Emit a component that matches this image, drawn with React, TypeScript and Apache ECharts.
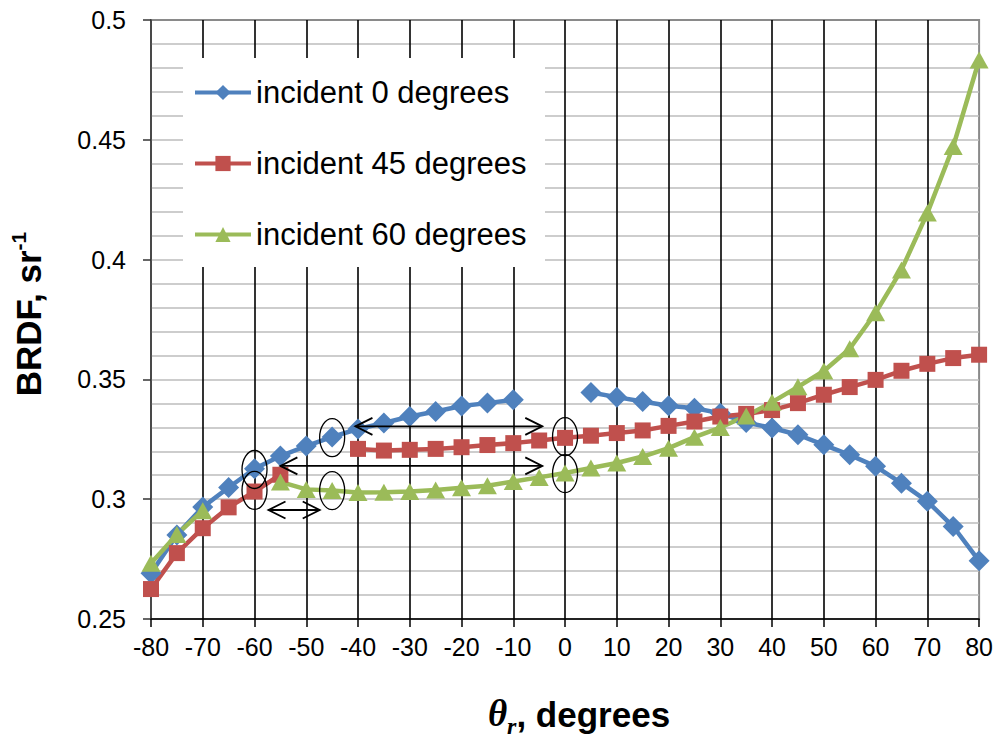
import React, { useEffect, useRef } from "react";
import * as echarts from "echarts";

// Reflection angle theta_r, degrees
const ANGLES = [-80, -75, -70, -65, -60, -55, -50, -45, -40, -35, -30, -25, -20, -15, -10, -5, 0, 5, 10, 15, 20, 25, 30, 35, 40, 45, 50, 55, 60, 65, 70, 75, 80];

const SERIES_NAMES = ["incident 0 degrees", "incident 45 degrees", "incident 60 degrees"];
const SERIES_COLORS = ["#4F81BD", "#C0504D", "#9BBB59"];
const SERIES_SYMBOLS = ["diamond", "rect", "triangle"];

const INC0 = [0.2691, 0.2851, 0.2967, 0.3049, 0.3127, 0.3180, 0.3222, 0.3260, 0.3293, 0.3318, 0.3345, 0.3366, 0.3389, 0.3401, 0.3415, null, null, 0.3445, 0.3426, 0.3408, 0.3390, 0.3380, 0.3359, 0.3320, 0.3297, 0.3269, 0.3227, 0.3185, 0.3137, 0.3067, 0.2991, 0.2886, 0.2743];
const INC45 = [0.2625, 0.2775, 0.2879, 0.2966, 0.3032, 0.3102, null, null, 0.3210, 0.3203, 0.3206, 0.3210, 0.3217, 0.3226, 0.3234, 0.3245, 0.3256, 0.3265, 0.3276, 0.3287, 0.3306, 0.3324, 0.3345, 0.3356, 0.3372, 0.3401, 0.3436, 0.3468, 0.3498, 0.3536, 0.3565, 0.3589, 0.3603];
const INC60 = [0.2733, 0.2853, 0.2952, null, null, 0.3072, 0.3041, 0.3036, 0.3028, 0.3029, 0.3032, 0.3038, 0.3048, 0.3056, 0.3074, 0.3091, 0.3109, 0.3130, 0.3151, 0.3178, 0.3213, 0.3259, 0.3299, 0.3347, 0.3405, 0.3469, 0.3535, 0.3628, 0.3778, 0.3957, 0.4194, 0.4472, 0.4833];

// Annotation ellipses (data coords: angle, BRDF)
const ELLIPSES = [
  [-60, 0.3124],
  [-60, 0.3037],
  [-45, 0.3257],
  [-45, 0.3036],
  [0, 0.3261],
  [0, 0.3107],
];
// Double-headed arrows: [fromAngle, toAngle, BRDF]
const ARROWS = [
  [-40.5, -4.4, 0.3304],
  [-55.0, -4.4, 0.3139],
  [-57.3, -47.4, 0.2955],
];

const FONT = "'Liberation Sans', Arial, Helvetica, sans-serif";
const SERIF = "'Liberation Serif', 'Times New Roman', serif";

export default function App() {
  const ref = useRef<HTMLDivElement>(null);

  useEffect(() => {
    document.body.style.margin = "0";
    const chart = echarts.init(ref.current!, undefined, { renderer: "svg" });
    const seriesData = [INC0, INC45, INC60].map((arr) =>
      ANGLES.map((a, i) => [a, arr[i] == null ? "-" : arr[i]])
    );
    const symbolSizes: any[] = [21, 16, [19, 17]];

    chart.setOption({
      animation: false,
      backgroundColor: "#ffffff",
      grid: {
        left: 151,
        top: 20,
        width: 829,
        height: 599,
        show: true,
        borderColor: "#8a8a8a",
        borderWidth: 2,
        backgroundColor: "transparent",
      },
      xAxis: {
        type: "value",
        min: -80,
        max: 80,
        interval: 10,
        axisLine: { show: true, onZero: false, lineStyle: { color: "#000", width: 1.5 } },
        axisTick: { show: true, inside: false, length: 8, lineStyle: { color: "#000", width: 1.5 } },
        axisLabel: { fontSize: 25, color: "#000", fontFamily: FONT, margin: 15 },
        splitLine: { show: true, showMinLine: false, showMaxLine: false, lineStyle: { color: "#000", width: 1.6 } },
      },
      yAxis: {
        type: "value",
        min: 0.25,
        max: 0.5,
        interval: 0.05,
        axisLine: { show: true, onZero: false, lineStyle: { color: "#333", width: 1.5 } },
        axisTick: { show: true, inside: false, length: 8, lineStyle: { color: "#333", width: 1.5 } },
        axisLabel: { fontSize: 25, color: "#000", fontFamily: FONT, margin: 25 },
        splitLine: { show: true, showMinLine: false, showMaxLine: false, lineStyle: { color: "#bcbcbc", width: 1.6 } },
        minorTick: { show: false, splitNumber: 5 },
        minorSplitLine: { show: true, lineStyle: { color: "#bcbcbc", width: 1.6 } },
      },
      legend: {
        orient: "vertical",
        left: 193,
        top: 77,
        padding: 0,
        itemGap: 40,
        itemWidth: 56,
        itemHeight: 19,
        lineStyle: { width: 4 },
        textStyle: { fontSize: 31, color: "#000", fontFamily: FONT, lineHeight: 30 },
        data: SERIES_NAMES,
      },
      series: SERIES_NAMES.map((name, k) => ({
        name,
        type: "line",
        data: seriesData[k],
        symbol: SERIES_SYMBOLS[k],
        symbolSize: symbolSizes[k],
        showAllSymbol: true,
        connectNulls: false,
        lineStyle: { width: 4.5, color: SERIES_COLORS[k] },
        itemStyle: { color: SERIES_COLORS[k] },
        emphasis: { disabled: true },
      })),
    });

    const toPx = (x: number, y: number) => chart.convertToPixel({ gridIndex: 0 }, [x, y]) as number[];

    const graphics: any[] = [
      {
        type: "rect",
        z: 1,
        shape: { x: 183, y: 58, width: 362, height: 209 },
        style: { fill: "#ffffff" },
        silent: true,
      },
    ];

    ELLIPSES.forEach(([x, y]) => {
      const [cx, cy] = toPx(x, y);
      graphics.push({
        type: "ellipse",
        z: 10,
        shape: { cx, cy, rx: 12.5, ry: 19 },
        style: { fill: "none", stroke: "#000", lineWidth: 1.3 },
        silent: true,
      });
    });

    ARROWS.forEach(([x1, x2, y]) => {
      const [p1x, py] = toPx(x1, y);
      const [p2x] = toPx(x2, y);
      const hx = 17;
      const hy = 8.5;
      graphics.push({
        type: "line",
        z: 10,
        shape: { x1: p1x, y1: py, x2: p2x, y2: py },
        style: { stroke: "#000", lineWidth: 1.8 },
        silent: true,
      });
      graphics.push({
        type: "polyline",
        z: 10,
        shape: { points: [[p1x + hx, py - hy], [p1x, py], [p1x + hx, py + hy]] },
        style: { stroke: "#000", lineWidth: 1.8, fill: "none" },
        silent: true,
      });
      graphics.push({
        type: "polyline",
        z: 10,
        shape: { points: [[p2x - hx, py - hy], [p2x, py], [p2x - hx, py + hy]] },
        style: { stroke: "#000", lineWidth: 1.8, fill: "none" },
        silent: true,
      });
    });

    // Axis titles
    graphics.push({
      type: "text",
      z: 10,
      x: 27,
      y: 314,
      rotation: Math.PI / 2,
      style: {
        text: "{a|BRDF, sr}{b|-1}",
        align: "center",
        verticalAlign: "middle",
        rich: {
          a: { fontSize: 35, fontWeight: "bold", fontFamily: FONT, fill: "#000", verticalAlign: "bottom", lineHeight: 38 },
          b: { fontSize: 21, fontWeight: "bold", fontFamily: FONT, fill: "#000", verticalAlign: "top", lineHeight: 24 },
        },
      },
      silent: true,
    });
    graphics.push({
      type: "text",
      z: 10,
      x: 579,
      y: 719,
      style: {
        text: "{t|θ}{r|r}{d|, degrees}",
        align: "center",
        verticalAlign: "middle",
        rich: {
          t: { fontSize: 37, fontStyle: "italic", fontWeight: "bold", fontFamily: SERIF, fill: "#000", verticalAlign: "bottom", padding: [0, 0, 6, 0], lineHeight: 38 },
          r: { fontSize: 24, fontStyle: "italic", fontWeight: "bold", fontFamily: SERIF, fill: "#000", verticalAlign: "bottom", lineHeight: 26 },
          d: { fontSize: 35, fontWeight: "bold", fontFamily: FONT, fill: "#000", verticalAlign: "bottom", padding: [0, 0, 6, 0], lineHeight: 38 },
        },
      },
      silent: true,
    });

    chart.setOption({ graphic: graphics });

    return () => {
      chart.dispose();
    };
  }, []);

  return <div ref={ref} style={{ width: 996, height: 740 }} />;
}
